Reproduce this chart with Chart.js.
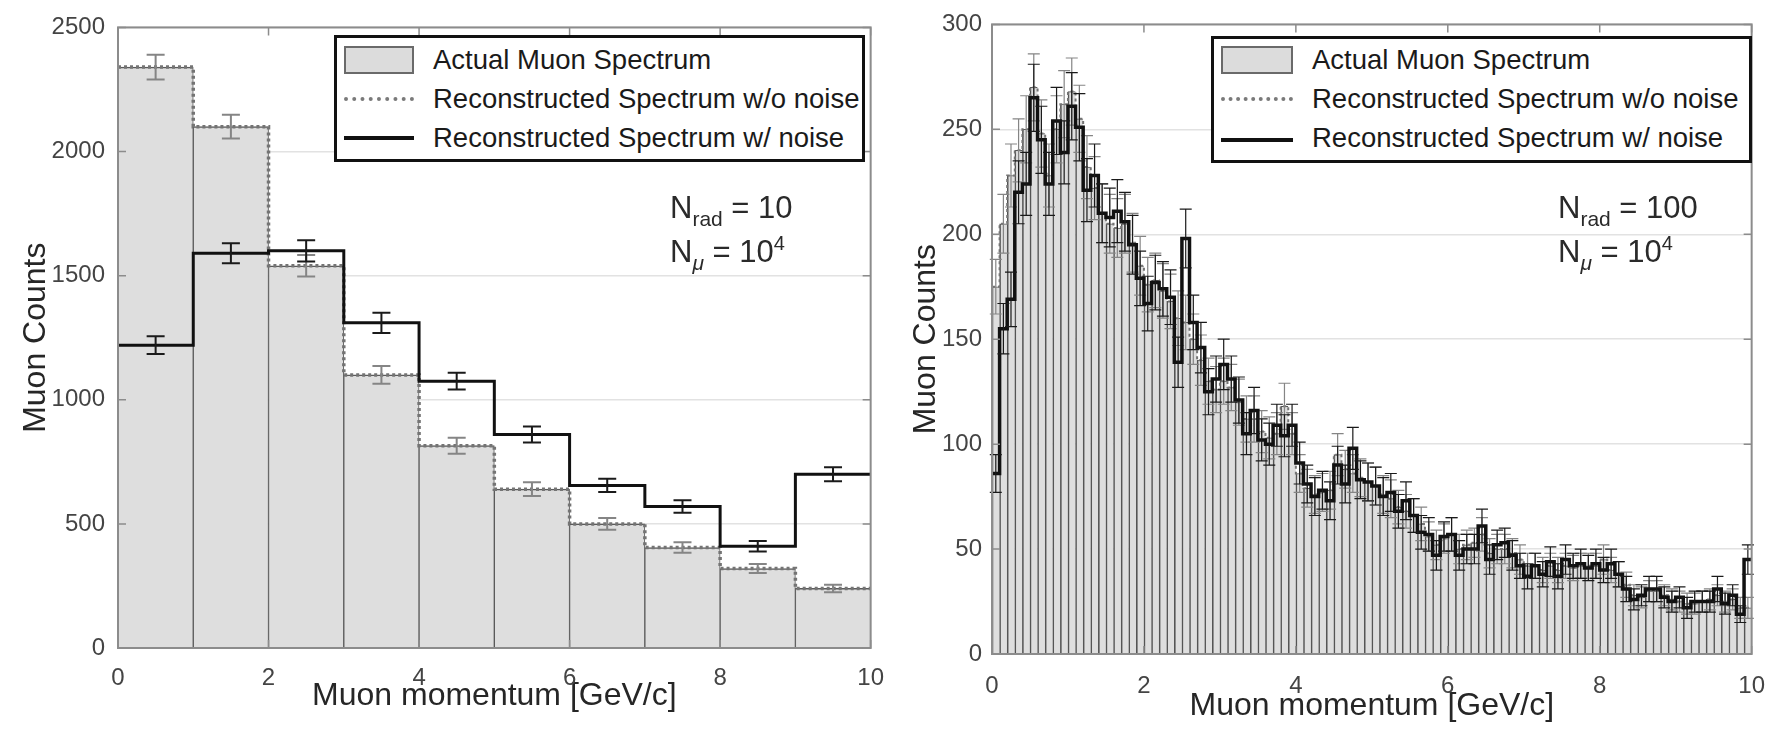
<!DOCTYPE html>
<html>
<head>
<meta charset="utf-8">
<script src="https://cdn.jsdelivr.net/npm/chart.js@4.4.1/dist/chart.umd.min.js"></script>
<style>
  html, body { margin: 0; padding: 0; background: #fff; }
  body { width: 1783px; height: 744px; position: relative; overflow: hidden;
         font-family: "Liberation Sans", Arial, sans-serif; }
  canvas { position: absolute; top: 0; }
  #leftChart { left: 0; }
  #rightChart { left: 900px; }
  .legend { position: absolute; box-sizing: border-box; border: 3px solid #111; background: #fff; }
  .sym-box { position: absolute; box-sizing: border-box; border: 2px solid #6a6a6a; background: #dcdcdc; }
  .sym-dot { position: absolute; height: 0; border-top: 4px dotted #7a7a7a; }
  .sym-line { position: absolute; height: 0; border-top: 4px solid #111; }
  .ltxt { position: absolute; height: 34px; line-height: 34px; font-size: 27.5px; color: #1a1a1a; white-space: nowrap; }
  .note { position: absolute; font-size: 31px; color: #2a2a2a; white-space: nowrap; line-height: 40px; }
  .note .sub { font-size: 21px; position: relative; top: 8px; }
  .note .sup { font-size: 20px; position: relative; top: -12px; }
</style>
</head>
<body>
<canvas id="leftChart" width="900" height="744"></canvas>
<canvas id="rightChart" width="883" height="744"></canvas>

<div class="legend" style="left:334px;top:35px;width:531px;height:127px">
  <div class="sym-box" style="left:7px;top:8px;width:70px;height:28px"></div>
  <div class="ltxt" style="left:96px;top:5px">Actual Muon Spectrum</div>
  <div class="sym-dot" style="left:7px;top:59px;width:70px"></div>
  <div class="ltxt" style="left:96px;top:44px">Reconstructed Spectrum w/o noise</div>
  <div class="sym-line" style="left:7px;top:98px;width:70px"></div>
  <div class="ltxt" style="left:96px;top:83px">Reconstructed Spectrum w/ noise</div>
</div>
<div class="legend" style="left:1211px;top:36px;width:541px;height:127px">
  <div class="sym-box" style="left:7px;top:7px;width:72px;height:28px"></div>
  <div class="ltxt" style="left:98px;top:4px">Actual Muon Spectrum</div>
  <div class="sym-dot" style="left:7px;top:58px;width:72px"></div>
  <div class="ltxt" style="left:98px;top:43px">Reconstructed Spectrum w/o noise</div>
  <div class="sym-line" style="left:7px;top:99px;width:72px"></div>
  <div class="ltxt" style="left:98px;top:82px">Reconstructed Spectrum w/ noise</div>
</div>

<div class="note" style="left:670px;top:188px">N<span class="sub">rad</span> = 10</div>
<div class="note" style="left:670px;top:232px">N<span class="sub"><i>μ</i></span> = 10<span class="sup">4</span></div>
<div class="note" style="left:1558px;top:188px">N<span class="sub">rad</span> = 100</div>
<div class="note" style="left:1558px;top:232px">N<span class="sub"><i>μ</i></span> = 10<span class="sup">4</span></div>

<script>
// ---- Panel izquierdo: 10 bins de 1 GeV/c ----
const leftEdges = [0, 1, 2, 3, 4, 5, 6, 7, 8, 9, 10];
const leftActual = [2340, 2100, 1540, 1100, 815, 640, 500, 405, 320, 240];
const leftNoNoise = [2340, 2100, 1540, 1100, 815, 640, 500, 405, 320, 240];
const leftNoNoiseErr = [50, 48, 43, 36, 32, 28, 24, 21, 18, 15];
const leftNoise = [1220, 1590, 1600, 1310, 1075, 860, 655, 570, 410, 700];
const leftNoiseErr = [36, 40, 43, 41, 34, 32, 27, 25, 21, 28];
const leftYTicks = { min: 0, max: 2500, step: 500 };

// ---- Panel derecho: 100 bins de 0.1 GeV/c ----
const rightBinCount = 100;
const rightActual = [
  175, 205, 228, 240, 250, 270, 248, 228, 250, 262,
  268, 255, 232, 222, 210, 205, 203, 205, 196, 185,
  176, 178, 173, 168, 160, 158, 150, 140, 130, 126,
  130, 127, 120, 112, 112, 106, 103, 105, 118, 105,
  86, 79, 76, 77, 78, 95, 88, 86, 84, 82,
  80, 76, 74, 70, 68, 66, 62, 56, 52, 55,
  57, 50, 52, 53, 57, 48, 50, 50, 48, 45,
  42, 42, 40, 42, 40, 42, 41, 42, 42, 42,
  45, 40, 38, 33, 28, 27, 30, 30, 28, 26,
  25, 24, 24, 25, 26, 28, 25, 26, 22, 22
];
const rightNoNoise = [
  175, 205, 228, 240, 250, 270, 248, 228, 250, 262,
  268, 255, 232, 222, 210, 205, 203, 205, 196, 185,
  176, 178, 173, 168, 160, 158, 150, 140, 130, 126,
  130, 127, 120, 112, 112, 106, 103, 105, 118, 105,
  86, 79, 76, 77, 78, 95, 88, 86, 84, 82,
  80, 76, 74, 70, 68, 66, 62, 56, 52, 55,
  57, 50, 52, 53, 57, 48, 50, 50, 48, 45,
  42, 42, 40, 42, 40, 42, 41, 42, 42, 42,
  45, 40, 38, 33, 28, 27, 30, 30, 28, 26,
  25, 24, 24, 25, 26, 28, 25, 26, 22, 22
];
const rightNoNoiseErr = [
  13, 14, 15, 15, 16, 16, 16, 15, 16, 16,
  16, 16, 15, 15, 14, 14, 14, 14, 14, 14,
  13, 13, 13, 13, 13, 13, 12, 12, 11, 11,
  11, 11, 11, 11, 11, 10, 10, 10, 11, 10,
  9, 9, 9, 9, 9, 10, 9, 9, 9, 9,
  9, 9, 9, 8, 8, 8, 8, 7, 7, 7,
  8, 7, 7, 7, 8, 7, 7, 7, 7, 7,
  6, 6, 6, 6, 6, 6, 6, 6, 6, 6,
  7, 6, 6, 6, 5, 5, 5, 5, 5, 5,
  5, 5, 5, 5, 5, 5, 5, 5, 5, 5
];
const rightNoise = [
  86, 155, 169, 220, 224, 265, 245, 224, 254, 239,
  261, 251, 221, 228, 210, 208, 211, 206, 195, 179,
  167, 177, 174, 170, 139, 198, 158, 146, 125, 131,
  138, 131, 121, 105, 116, 102, 100, 109, 104, 109,
  91, 81, 75, 78, 73, 90, 81, 98, 83, 82,
  80, 75, 77, 68, 73, 66, 58, 57, 47, 56,
  57, 47, 50, 50, 61, 45, 52, 53, 47, 42,
  37, 42, 38, 44, 37, 45, 42, 43, 41, 43,
  40, 43, 38, 31, 26, 28, 31, 31, 27, 25,
  27, 22, 25, 25, 25, 31, 24, 28, 19, 45
];
const rightNoiseErr = [
  9, 12, 13, 15, 15, 16, 16, 15, 16, 15,
  16, 16, 15, 15, 14, 14, 15, 14, 14, 13,
  13, 13, 13, 13, 12, 14, 13, 12, 11, 11,
  12, 11, 11, 10, 11, 10, 10, 10, 10, 10,
  10, 9, 9, 9, 9, 9, 9, 10, 9, 9,
  9, 9, 9, 8, 9, 8, 8, 8, 7, 7,
  8, 7, 7, 7, 8, 7, 7, 7, 7, 6,
  6, 6, 6, 7, 6, 7, 6, 7, 6, 7,
  6, 7, 6, 6, 5, 5, 6, 6, 5, 5,
  5, 5, 5, 5, 5, 6, 5, 5, 4, 7
];
const rightYTicks = { min: 0, max: 300, step: 50 };
const xTicks = { min: 0, max: 10, step: 2 };

// bordes de los bins del panel derecho (0, 0.1, ... 10)
const rightEdges = Array.from({ length: rightBinCount + 1 }, (_, i) => i / 10);

Chart.defaults.font.family = '"Liberation Sans", Arial, sans-serif';

// --- helpers ---
function centersOf(edges) {
  return edges.slice(0, -1).map((e, i) => (e + edges[i + 1]) / 2);
}
function barPoints(edges, values) {
  const c = centersOf(edges);
  return values.map((v, i) => ({ x: c[i], y: v }));
}
function stepPoints(edges, values) {
  const pts = values.map((v, i) => ({ x: edges[i], y: v }));
  pts.push({ x: edges[values.length], y: values[values.length - 1] });
  return pts;
}

// barras de error dibujadas con las escalas del gráfico
const errorBarPlugin = {
  id: 'errorBars',
  afterDatasetDraw(chart, args) {
    const ds = chart.data.datasets[args.index];
    if (!ds.errors) return;
    const { ctx, scales: { x, y } } = chart;
    ctx.save();
    ctx.strokeStyle = ds.errorColor;
    ctx.lineWidth = ds.errorWidth;
    ds.errCenters.forEach((c, i) => {
      const px = x.getPixelForValue(c);
      const lo = y.getPixelForValue(ds.errValues[i] - ds.errors[i]);
      const hi = y.getPixelForValue(ds.errValues[i] + ds.errors[i]);
      ctx.beginPath();
      ctx.moveTo(px, lo); ctx.lineTo(px, hi);
      ctx.moveTo(px - ds.capHalf, lo); ctx.lineTo(px + ds.capHalf, lo);
      ctx.moveTo(px - ds.capHalf, hi); ctx.lineTo(px + ds.capHalf, hi);
      ctx.stroke();
    });
    ctx.restore();
  }
};

// caja estilo MATLAB con ticks hacia dentro
const boxPlugin = {
  id: 'axesBox',
  afterDatasetsDraw(chart) {
    const { ctx, chartArea: a, scales: { x, y } } = chart;
    ctx.save();
    ctx.strokeStyle = '#8c8c8c';
    ctx.lineWidth = 2;
    ctx.strokeRect(a.left, a.top, a.right - a.left, a.bottom - a.top);
    ctx.lineWidth = 1.5;
    ctx.beginPath();
    x.ticks.forEach(t => {
      const px = x.getPixelForValue(t.value);
      ctx.moveTo(px, a.bottom); ctx.lineTo(px, a.bottom - 8);
      ctx.moveTo(px, a.top); ctx.lineTo(px, a.top + 8);
    });
    y.ticks.forEach(t => {
      const py = y.getPixelForValue(t.value);
      ctx.moveTo(a.left, py); ctx.lineTo(a.left + 8, py);
      ctx.moveTo(a.right, py); ctx.lineTo(a.right - 8, py);
    });
    ctx.stroke();
    ctx.restore();
  }
};

function makeChart(id, cfg) {
  const centers = centersOf(cfg.edges);
  new Chart(document.getElementById(id), {
    type: 'bar',
    data: {
      datasets: [
        {
          type: 'line',
          label: 'Reconstructed Spectrum w/ noise',
          data: stepPoints(cfg.edges, cfg.noise),
          stepped: true,
          borderColor: '#111',
          borderWidth: cfg.noiseWidth,
          pointRadius: 0,
          fill: false,
          order: 0,
          errors: cfg.noiseErr, errValues: cfg.noise, errCenters: centers,
          errorColor: '#1a1a1a', errorWidth: cfg.errW, capHalf: cfg.cap
        },
        {
          type: 'line',
          label: 'Reconstructed Spectrum w/o noise',
          data: stepPoints(cfg.edges, cfg.noNoise),
          stepped: true,
          borderColor: '#747474',
          borderWidth: cfg.dotWidth,
          borderDash: [3, 3],
          pointRadius: 0,
          fill: false,
          order: 1,
          errors: cfg.noNoiseErr, errValues: cfg.noNoise, errCenters: centers,
          errorColor: '#858585', errorWidth: cfg.errW, capHalf: cfg.cap
        },
        {
          type: 'bar',
          label: 'Actual Muon Spectrum',
          data: barPoints(cfg.edges, cfg.actual),
          backgroundColor: '#dedede',
          borderColor: cfg.barBorder,
          borderWidth: cfg.barBorderWidth,
          borderSkipped: false,
          barPercentage: 1.0,
          categoryPercentage: 1.0,
          order: 2
        }
      ]
    },
    options: {
      responsive: false,
      animation: false,
      devicePixelRatio: 1,
      layout: { padding: { top: 17, right: cfg.padRight, left: 0, bottom: 0 } },
      plugins: { legend: { display: false }, tooltip: { enabled: false } },
      scales: {
        x: {
          type: 'linear',
          min: xTicks.min, max: xTicks.max,
          offset: false,
          grid: { display: false, drawTicks: false, offset: false },
          border: { display: false },
          ticks: { stepSize: xTicks.step, padding: cfg.xTickPad, color: '#444', font: { size: 24 },
                   maxRotation: 0, autoSkip: false, callback: v => String(v) },
          title: { display: true, text: 'Muon momentum [GeV/c]', color: '#262626',
                   font: { size: 32 }, padding: { top: 0, bottom: cfg.xTitlePad } },
          afterFit(s) { s.height = cfg.xHeight; }
        },
        y: {
          min: cfg.yTicks.min, max: cfg.yTicks.max,
          grid: { color: '#e2e2e2', lineWidth: 1.5, drawTicks: false },
          border: { display: false },
          ticks: { stepSize: cfg.yTicks.step, padding: cfg.yTickPad, color: '#444', font: { size: 24 },
                   callback: v => String(v) },
          title: { display: true, text: 'Muon Counts', color: '#262626',
                   font: { size: 32 }, padding: { top: cfg.yTitlePad, bottom: 0 } },
          afterFit(s) { s.width = cfg.yWidth; }
        }
      }
    },
    plugins: [errorBarPlugin, boxPlugin]
  });
}

makeChart('leftChart', {
  edges: leftEdges, actual: leftActual, noNoise: leftNoNoise, noNoiseErr: leftNoNoiseErr,
  noise: leftNoise, noiseErr: leftNoiseErr, yTicks: leftYTicks,
  noiseWidth: 3, dotWidth: 3.5, errW: 2, cap: 9,
  barBorder: '#5a5a5a', barBorderWidth: { left: 1, right: 1, top: 1.5, bottom: 0 },
  padRight: 18, yWidth: 118, xHeight: 96,
  xTickPad: 16, yTickPad: 13, xTitlePad: 29, yTitlePad: 17
});

makeChart('rightChart', {
  edges: rightEdges, actual: rightActual, noNoise: rightNoNoise, noNoiseErr: rightNoNoiseErr,
  noise: rightNoise, noiseErr: rightNoiseErr, yTicks: rightYTicks,
  noiseWidth: 3.5, dotWidth: 2, errW: 1.2, cap: 6,
  barBorder: '#555', barBorderWidth: { left: 1.6, right: 0, top: 1, bottom: 0 },
  padRight: 14, yWidth: 92, xHeight: 90,
  xTickPad: 18, yTickPad: 10, xTitlePad: 19, yTitlePad: 7
});
</script>
</body>
</html>
